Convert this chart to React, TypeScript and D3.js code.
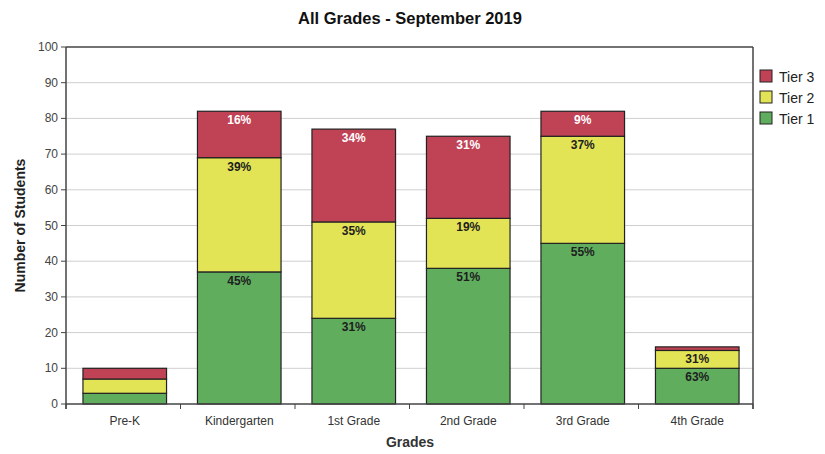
import React from 'react';
import * as d3 from 'd3';

const grades = ['Pre-K', 'Kindergarten', '1st Grade', '2nd Grade', '3rd Grade', '4th Grade'];
const tier1 = [3, 37, 24, 38, 45, 10];
const tier2 = [4, 32, 27, 14, 30, 5];
const tier3 = [3, 13, 26, 23, 7, 1];
const yTicks = [0, 10, 20, 30, 40, 50, 60, 70, 80, 90, 100];

const tiers = [
  { key: 'Tier 1', values: tier1, color: '#60ad5e', text: '#1e1e1e' },
  { key: 'Tier 2', values: tier2, color: '#e3e356', text: '#1e1e1e' },
  { key: 'Tier 3', values: tier3, color: '#c04255', text: '#ffffff' },
];

const W = 825;
const H = 454;
const left = 66;
const right = 753;
const top = 47;
const bottom = 404;
const font = 'Arial, "Liberation Sans", sans-serif';

const App: React.FC = () => {
  const x = d3.scaleBand<string>()
    .domain(grades)
    .range([left + 1.5, right + 1.5])
    .paddingInner(0.27)
    .paddingOuter(0.135);

  const y = d3.scaleLinear().domain([0, 100]).range([bottom, top]);

  const step = (right - left) / grades.length;
  const boundaries = d3.range(grades.length + 1).map(i => left + i * step);

  const rows = grades.map((g, i) => {
    let acc = 0;
    const total = tier1[i] + tier2[i] + tier3[i];
    return tiers.map(t => {
      const v = t.values[i];
      const seg = { grade: g, tier: t, y0: acc, y1: acc + v, pct: Math.round((v / total) * 100) };
      acc += v;
      return seg;
    });
  });

  return (
    <svg width={W} height={H} style={{ position: 'absolute', left: 0, top: 0 }} fontFamily={font}>
      <rect x={0} y={0} width={W} height={H} fill="#fff" />
      <text x={410} y={24} textAnchor="middle" fontSize={16.5} fontWeight="bold" fill="#111">
        All Grades - September 2019
      </text>

      {/* grid */}
      {yTicks.filter(t => t > 0 && t < 100).map(t => (
        <line key={t} x1={left} x2={right} y1={y(t)} y2={y(t)} stroke="#cfcfcf" strokeWidth={1} />
      ))}

      {/* bars */}
      {rows.map(segs => segs.map(s => {
        const y0 = y(s.y1);
        const h = y(s.y0) - y(s.y1);
        const bx = x(s.grade) || 0;
        return (
          <g key={s.grade + s.tier.key}>
            <rect x={bx} y={y0} width={x.bandwidth()} height={h} fill={s.tier.color} stroke="#222" strokeWidth={1.2} />
            {h >= 16 && (
              <text x={bx + x.bandwidth() / 2} y={y0 + 13} textAnchor="middle" fontSize={12} fontWeight="bold" fill={s.tier.text}>
                {s.pct}%
              </text>
            )}
          </g>
        );
      }))}

      {/* frame */}
      <line x1={left} x2={right} y1={top} y2={top} stroke="#444" strokeWidth={1.5} />
      <line x1={right} x2={right} y1={top} y2={bottom + 5} stroke="#444" strokeWidth={1.5} />
      <line x1={left} x2={left} y1={top} y2={bottom + 5} stroke="#444" strokeWidth={1.5} />
      <line x1={left} x2={right} y1={bottom} y2={bottom} stroke="#444" strokeWidth={1.5} />

      {/* y axis */}
      {yTicks.map(t => (
        <g key={t}>
          <line x1={left - 5} x2={left} y1={y(t)} y2={y(t)} stroke="#444" />
          <text x={left - 8} y={y(t) + 4} textAnchor="end" fontSize={12} fill="#444">{t}</text>
        </g>
      ))}
      <text transform={`translate(25,${(top + bottom) / 2}) rotate(-90)`} textAnchor="middle" fontSize={14} fontWeight="bold" fill="#222">
        Number of Students
      </text>

      {/* x axis */}
      {boundaries.map((b, i) => (
        <line key={i} x1={b} x2={b} y1={bottom} y2={bottom + 5} stroke="#444" />
      ))}
      {grades.map(g => (
        <text key={g} x={(x(g) || 0) + x.bandwidth() / 2} y={425} textAnchor="middle" fontSize={12} fill="#333">{g}</text>
      ))}
      <text x={410} y={447} textAnchor="middle" fontSize={14} fontWeight="bold" fill="#333">Grades</text>

      {/* legend */}
      {[...tiers].reverse().map((t, i) => (
        <g key={t.key} transform={`translate(760,${70 + i * 21})`}>
          <rect x={0} y={0} width={12} height={12} fill={t.color} stroke="#222" strokeWidth={1} />
          <text x={19} y={12} fontSize={14} fill="#222">{t.key}</text>
        </g>
      ))}
    </svg>
  );
};

export default App;
